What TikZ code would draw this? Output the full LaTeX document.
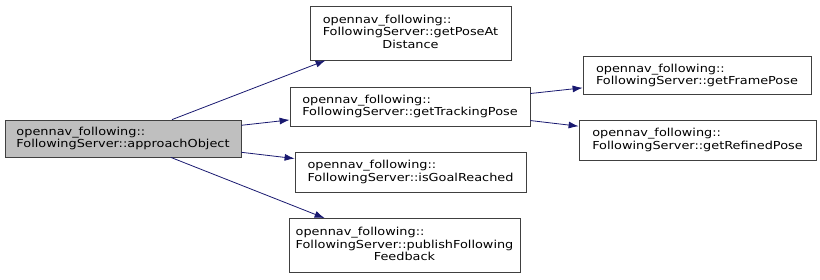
\documentclass[tikz,border=0pt]{standalone}
\usepackage{fontspec}
\setmainfont{DejaVu Sans}[FakeStretch=1.17]
\usetikzlibrary{arrows.meta}
\definecolor{edgeblue}{HTML}{191970}
\definecolor{boxline}{HTML}{404040}
\newcommand{\lastc}[1]{\multicolumn{1}{@{}c@{}}{#1}}
\tikzset{
  fn/.style     ={rectangle,draw=boxline,fill=white,line width=0.8pt,align=left,
                  inner sep=0pt,font=\fontsize{11}{12.5}\selectfont},
  current/.style={fn,fill=gray!50},
  arr/.style    ={-{Latex[length=10pt,width=7pt]},edgeblue,line width=0.8pt}
}

\begin{document}
\begin{tikzpicture}[x=1pt,y=-1pt]
  \useasboundingbox (0,0) rectangle (820,279);
  % Nodes
  \node (approach) [current,minimum width=236pt,minimum height=37pt] at (123,138.5)
        {opennav\_following::\\FollowingServer::approachObject};
  \node (posedist) [fn,minimum width=201pt,minimum height=54pt] at (410.5,33)
        {\begin{tabular}{@{}l@{}}opennav\_following::\\FollowingServer::getPoseAt\\\lastc{Distance}\end{tabular}};
  \node (tracking) [fn,minimum width=240pt,minimum height=39pt] at (410,106.5)
        {opennav\_following::\\FollowingServer::getTrackingPose};
  \node (goal)     [fn,minimum width=231pt,minimum height=40pt] at (410.5,172)
        {opennav\_following::\\FollowingServer::isGoalReached};
  \node (feedback) [fn,minimum width=231pt,minimum height=54pt] at (404.5,245.5)
        {\begin{tabular}{@{}l@{}}opennav\_following::\\FollowingServer::publishFollowing\\\lastc{Feedback}\end{tabular}};
  \node (frame)    [fn,minimum width=228pt,minimum height=38pt] at (697,75.5)
        {opennav\_following::\\FollowingServer::getFramePose};
  \node (refined)  [fn,minimum width=237pt,minimum height=40pt] at (697.5,140)
        {opennav\_following::\\FollowingServer::getRefinedPose};

  % Arrows
  \draw [arr] (approach) -- ([xshift=16pt]posedist.south west);
  \draw [arr] (approach) -- (tracking);
  \draw [arr] (approach) -- (goal);
  \draw [arr] (approach) -- ([xshift=36pt]feedback.north west);
  \draw [arr] (tracking) -- (frame);
  \draw [arr] (tracking) -- (refined);
\end{tikzpicture}
\end{document}
